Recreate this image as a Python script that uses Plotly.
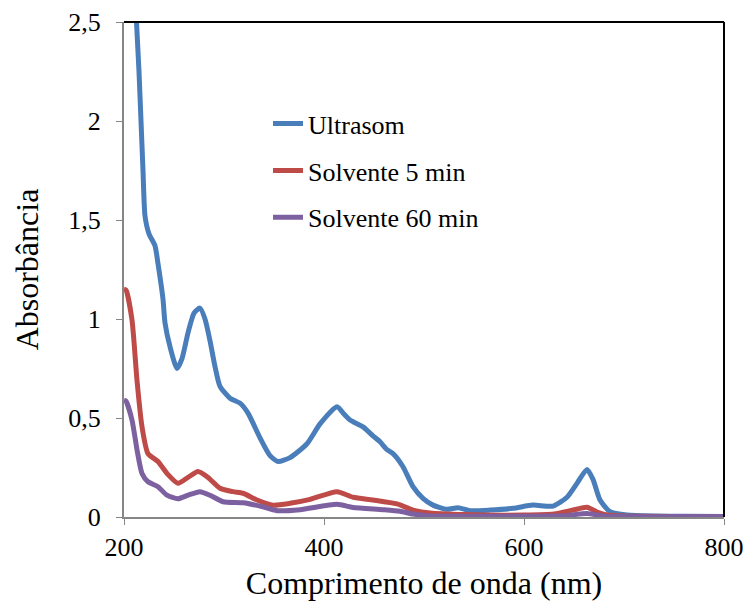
import plotly.graph_objects as go

# Data
wl_ultra = [212, 215, 217, 219, 221, 225, 231, 234, 239, 241, 246, 253, 258, 264, 270, 276, 281, 286,
            291, 296, 306, 316, 324, 336, 346, 354, 366, 383, 396, 413, 420, 426, 439, 449, 456, 463,
            469, 479, 489, 499, 509, 523, 534, 546, 566, 589, 609, 629, 643, 653, 663, 669, 676, 686,
            703, 730, 760, 800]
abs_ultra = [2.55, 2.25, 2.0, 1.75, 1.52, 1.43, 1.37, 1.28, 1.10, 0.98, 0.86, 0.75, 0.80, 0.93, 1.03, 1.055, 1.0, 0.89,
             0.76, 0.66, 0.60, 0.575, 0.525, 0.40, 0.31, 0.28, 0.30, 0.37, 0.47, 0.557, 0.52, 0.49, 0.455, 0.41, 0.38, 0.34,
             0.32, 0.254, 0.153, 0.094, 0.06, 0.039, 0.047, 0.032, 0.035, 0.044, 0.06, 0.055, 0.10, 0.17, 0.24, 0.19, 0.086, 0.027,
             0.01, 0.005, 0.004, 0.003]

wl_s5 = [200, 202, 208, 213, 218, 224, 234, 243, 254, 264, 274, 284, 296, 309, 319, 333, 349, 366, 386, 413,
         429, 449, 473, 489, 506, 540, 600, 630, 649, 663, 673, 683, 700, 750, 800]
abs_s5 = [1.15, 1.146, 0.995, 0.69, 0.456, 0.32, 0.28, 0.22, 0.17, 0.20, 0.23, 0.20, 0.145, 0.128, 0.12, 0.086, 0.06, 0.069, 0.089, 0.128,
          0.10, 0.086, 0.066, 0.035, 0.02, 0.012, 0.01, 0.015, 0.035, 0.049, 0.025, 0.01, 0.005, 0.003, 0.003]

wl_s60 = [200, 202, 208, 213, 218, 224, 234, 243, 254, 264, 276, 286, 299, 319, 336, 353, 376, 413, 429, 459,
          476, 489, 506, 540, 600, 640, 663, 680, 700, 750, 800]
abs_s60 = [0.59, 0.585, 0.49, 0.34, 0.22, 0.178, 0.153, 0.11, 0.092, 0.11, 0.128, 0.11, 0.077, 0.072, 0.055, 0.032, 0.037, 0.064, 0.048, 0.037,
           0.029, 0.015, 0.005, 0.004, 0.004, 0.006, 0.018, 0.004, 0.002, 0.002, 0.002]

series_names = ["Ultrasom", "Solvente 5 min", "Solvente 60 min"]
colors = ["#4A7EBB", "#BE4B48", "#7D60A0"]

x_ticks = [200, 400, 600, 800]
y_ticks = [0, 0.5, 1, 1.5, 2, 2.5]
y_tick_labels = ["0", "0,5", "1", "1,5", "2", "2,5"]

font_family = "Liberation Serif, Times New Roman, serif"

fig = go.Figure()
for i, (xs, ys) in enumerate([(wl_ultra, abs_ultra), (wl_s5, abs_s5), (wl_s60, abs_s60)]):
    fig.add_trace(go.Scatter(
        x=xs, y=ys, mode="lines", name=series_names[i],
        line=dict(color=colors[i], width=5, shape="spline", smoothing=0.6),
        legendgroup=series_names[i],
    ))

fig.update_layout(
    width=747, height=607,
    margin=dict(l=124, r=23, t=22, b=90, autoexpand=False),
    paper_bgcolor="white", plot_bgcolor="white",
    font=dict(family=font_family, color="black", size=26),
    showlegend=True,
    legend=dict(
        x=0.24, y=0.842, xanchor="left", yanchor="top",
        bgcolor="rgba(0,0,0,0)",
        font=dict(family=font_family, size=26, color="black"),
        traceorder="grouped", tracegroupgap=10,
    ),
    xaxis=dict(
        range=[200, 800], tickvals=x_ticks, ticks="outside", ticklen=6,
        tickcolor="#868686", showline=True, linecolor="#868686", linewidth=2,
        showgrid=False, zeroline=False, automargin=False,
        tickfont=dict(family=font_family, size=26),
        title=dict(text="Comprimento de onda (nm)", font=dict(family=font_family, size=32), standoff=10),
    ),
    yaxis=dict(
        range=[0, 2.5], tickvals=y_ticks, ticktext=y_tick_labels, ticks="outside", ticklen=6,
        tickcolor="#868686", showline=True, linecolor="#868686", linewidth=2,
        showgrid=False, zeroline=False, automargin=False,
        ticklabelstandoff=10,
        tickfont=dict(family=font_family, size=26),
        title=dict(text="Absorbância", font=dict(family=font_family, size=32), standoff=20),
    ),
    shapes=[
        dict(type="line", xref="paper", yref="paper", x0=0, x1=1, y0=1, y1=1,
             line=dict(color="black", width=2)),
        dict(type="line", xref="paper", yref="paper", x0=1, x1=1, y0=0, y1=1,
             line=dict(color="black", width=2)),
    ],
)

fig.write_html("out.html")
